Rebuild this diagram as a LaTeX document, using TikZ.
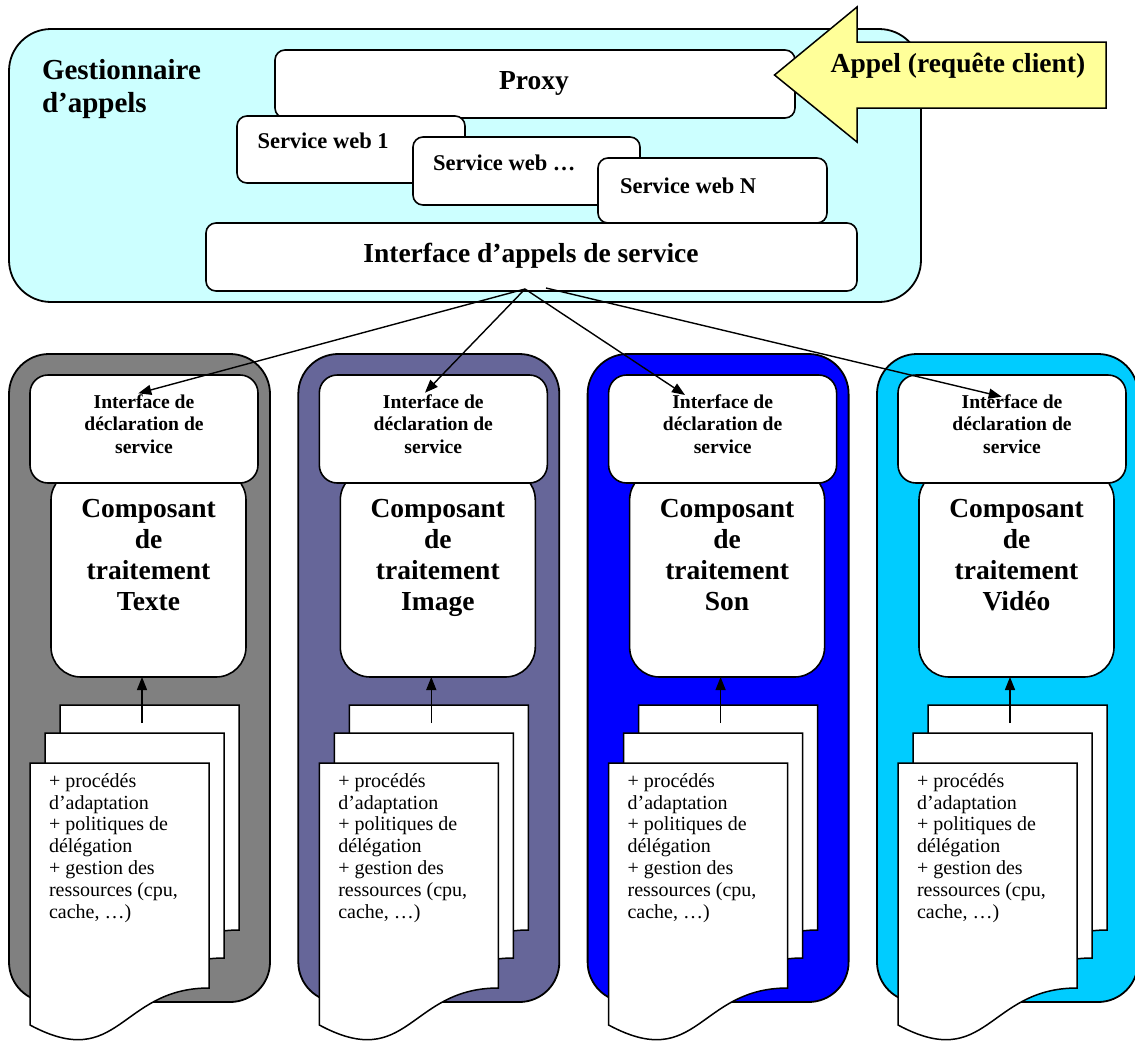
\documentclass[tikz,border=0pt]{standalone}
\usepackage{fontspec}
\setmainfont{Liberation Serif}
\usetikzlibrary{arrows.meta}

\definecolor{callbg}{HTML}{CCFFFF}
\definecolor{callarrow}{HTML}{FFFF99}
\definecolor{coltexte}{HTML}{808080}
\definecolor{colimage}{HTML}{666699}
\definecolor{colson}{HTML}{0000FF}
\definecolor{colvideo}{HTML}{00CCFF}

\newcommand\fs[2]{\fontsize{#1}{#2}\selectfont}

\tikzset{
  wbox/.style={draw, line width=1.6pt, fill=white, inner sep=0pt, outer sep=0pt, rounded corners=#1},
  colframe/.style={draw, line width=1.8pt, fill=#1, inner sep=0pt, outer sep=0pt, rounded corners=40pt},
  page/.style={draw, line width=1.5pt, fill=white},
  lbl/.style={inner sep=0pt, outer sep=0pt, align=center},
  conn/.style={line width=1.4pt, -{Triangle[length=13pt,width=10pt]}},
}

% rectangle node given by its corners: name, x1, y1, x2, y2, style
\newcommand\cornerbox[6]{%
  \node[#6, minimum width={(#4-#2)*1pt}, minimum height={(#5-#3)*1pt}]
    (#1) at ({(#2+#4)/2},{(#3+#5)/2}) {};}

% one sheet of the document stack, top-left corner at (#1,#2)
\newcommand\docsheet[2]{%
  \draw[page] (#1,#2) -- ({#1+179},#2) -- ({#1+179},{#2+225})
    .. controls ({#1+89.5},{#2+225}) and ({#1+89.5},{#2+310}) .. (#1,{#2+262}) -- cycle;}

% processing component column: x offset, fill colour, suffix, media name
% (multi-line labels are placed by the baseline of their last line)
\newcommand\proccolumn[4]{%
  \begin{scope}[shift={(#1,0)}]
    \cornerbox{col#3}{0}{354}{261}{1002}{colframe=#2}
    \cornerbox{comp#3}{42}{470}{237}{677}{wbox=30pt}
    \cornerbox{decl#3}{21}{375}{249}{483}{wbox=18pt}
    \node[lbl, anchor=base, font=\bfseries\fs{19.6}{22.3}] (declt#3) at (135,453)
      {Interface de\\déclaration de\\service};
    \node[lbl, anchor=base, font=\bfseries\fs{27.5}{31}] (compt#3) at (139.5,610)
      {Composant\\de\\traitement\\#4};
    \docsheet{51}{705}
    \docsheet{36}{733}
    \docsheet{21}{763}
    \node[lbl, align=left, anchor=base west, font=\fs{20}{21.8}] (doct#3) at (40,918)
      {+ procédés\\d’adaptation\\+ politiques de\\délégation\\+ gestion des\\ressources (cpu,\\cache, …)};
    \coordinate (src#3) at (133,723);
    \coordinate (dst#3) at (133,677);
    \draw[conn] (src#3) -- (dst#3);
  \end{scope}}

\begin{document}
\begin{tikzpicture}[x=1pt, y=-1pt]
  \useasboundingbox (0,0) rectangle (1135,1042);

  % call manager
  \cornerbox{manager}{9}{29}{921}{302}{draw, line width=1.8pt, fill=callbg, rounded corners=42pt, inner sep=0pt}
  \node[lbl, align=left, anchor=base west, font=\bfseries\fs{29}{33}] (managert) at (42,112)
    {Gestionnaire\\d’appels};

  \cornerbox{proxy}{275}{50}{795}{118}{wbox=10pt}
  \node[lbl, anchor=base, font=\bfseries\fs{27.5}{31}] (proxyt) at (534,89) {Proxy};

  \cornerbox{ws1}{237}{116}{465}{183}{wbox=10pt}
  \node[lbl, anchor=base west, font=\bfseries\fs{22.5}{26}] (ws1t) at (257.5,148) {Service web 1};

  \cornerbox{wsdots}{413}{137}{640}{205}{wbox=10pt}
  \node[lbl, anchor=base west, font=\bfseries\fs{22.5}{26}] (wsdotst) at (433,170) {Service web …};

  \cornerbox{wsn}{598}{158}{827}{223}{wbox=10pt}
  \node[lbl, anchor=base west, font=\bfseries\fs{22.5}{26}] (wsnt) at (620,193) {Service web N};

  \cornerbox{callif}{206}{223}{857}{291}{wbox=10pt}
  \node[lbl, anchor=base, font=\bfseries\fs{27.5}{31}] (callift) at (531,262)
    {Interface d’appels de service};

  % incoming client request
  \draw[line width=1.5pt, fill=callarrow] (774.5,75) -- (857,7) -- (857,42) -- (1106,42)
    -- (1106,108) -- (857,108) -- (857,142) -- cycle;
  \node[lbl, anchor=base, font=\bfseries\fs{27.5}{31}] (appel) at (958,72)
    {Appel (requête client)};

  % processing components
  \proccolumn{9}{coltexte}{A}{Texte}
  \proccolumn{298.3}{colimage}{B}{Image}
  \proccolumn{587.6}{colson}{C}{Son}
  \proccolumn{877}{colvideo}{D}{Vidéo}

  % dispatch from the service call interface
  \coordinate (hub) at (525,289);
  \coordinate (hubv) at (546,288);
  \coordinate (tipA) at (138.3,393.3);
  \coordinate (tipB) at (425,392.7);
  \coordinate (tipC) at (685,395);
  \coordinate (tipD) at (1001.7,396.7);
  \draw[conn] (hub) -- (tipA);
  \draw[conn] (hub) -- (tipB);
  \draw[conn] (hub) -- (tipC);
  \draw[conn] (hubv) -- (tipD);
\end{tikzpicture}
\end{document}
